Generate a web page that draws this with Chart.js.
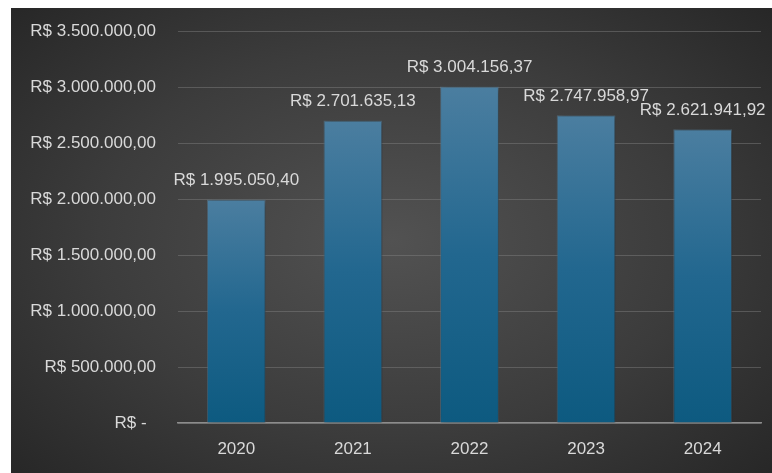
<!DOCTYPE html>
<html>
<head>
<meta charset="utf-8">
<script src="https://cdn.jsdelivr.net/npm/chart.js@4.4.1/dist/chart.umd.min.js"></script>
<style>
    html, body { margin: 0; padding: 0; background: #fff; }
    #wrap {
        position: absolute; left: 11px; top: 8px; width: 761px; height: 465px;
        background: radial-gradient(ellipse 70% 75% at 50% 50%, #525252 0%, #3c3c3c 55%, #262626 100%);
    }
</style>
</head>
<body>
<div id="wrap"><canvas id="grafico"></canvas></div>
<script>
// Dados do gráfico
const anos = ['2020', '2021', '2022', '2023', '2024'];
const valores = [1995050.40, 2701635.13, 3004156.37, 2747958.97, 2621941.92];
const eixoMax = 3500000;
const eixoPasso = 500000;

// Formato moeda brasileiro: R$ 1.234.567,89
function formatarReal(v) {
    if (v === 0) return 'R$ -  ';
    const partes = Number(v).toFixed(2).split('.');
    const inteiro = partes[0].replace(/\B(?=(\d{3})+(?!\d))/g, '.');
    return 'R$ ' + inteiro + ',' + partes[1];
}

const corTexto = '#d9d9d9';
const fonte = { family: "'Liberation Sans', Arial, sans-serif", size: 17 };

// Sombra suave nas barras
const sombraBarras = {
    id: 'sombraBarras',
    beforeDatasetsDraw(chart) {
        const ctx = chart.ctx;
        ctx.save();
        ctx.shadowColor = 'rgba(0,0,0,0.45)';
        ctx.shadowBlur = 6;
        ctx.shadowOffsetX = 2;
        ctx.shadowOffsetY = 1;
    },
    afterDatasetsDraw(chart) {
        chart.ctx.restore();
    }
};

// Rótulos de valor acima das barras
const rotulosValores = {
    id: 'rotulosValores',
    afterDatasetsDraw(chart) {
        const ctx = chart.ctx;
        const meta = chart.getDatasetMeta(0);
        ctx.save();
        ctx.font = `${fonte.size}px ${fonte.family}`;
        ctx.fillStyle = corTexto;
        ctx.textAlign = 'center';
        ctx.textBaseline = 'middle';
        meta.data.forEach((barra, i) => {
            ctx.fillText(formatarReal(valores[i]), barra.x, barra.y - 19);
        });
        ctx.restore();
    }
};

new Chart(document.getElementById('grafico'), {
    type: 'bar',
    data: {
        labels: anos,
        datasets: [{
            data: valores,
            backgroundColor: (context) => {
                const chart = context.chart;
                if (!chart.chartArea) return '#1f6a93';
                const y = chart.scales.y;
                const topo = y.getPixelForValue(context.raw);
                const base = y.getPixelForValue(0);
                const g = chart.ctx.createLinearGradient(0, topo, 0, base);
                g.addColorStop(0, '#4b7ea0');
                g.addColorStop(0.5, '#22678f');
                g.addColorStop(1, '#0d5a80');
                return g;
            },
            borderColor: 'rgba(110,150,180,0.45)',
            borderWidth: 1,
            categoryPercentage: 1,
            barPercentage: 0.505
        }]
    },
    options: {
        responsive: true,
        maintainAspectRatio: false,
        animation: false,
        layout: { padding: { top: 23, right: 11, bottom: 0, left: 0 } },
        scales: {
            x: {
                grid: { display: false },
                border: { color: '#8c8c8c', width: 1.5 },
                ticks: { color: corTexto, font: fonte, padding: 8 },
                afterFit: (scale) => { scale.height = 50; }
            },
            y: {
                min: 0, max: eixoMax,
                grid: { color: 'rgba(130,130,130,0.45)', drawTicks: false, lineWidth: 1 },
                border: { display: false },
                ticks: {
                    stepSize: eixoPasso, color: corTexto, font: fonte, padding: 22,
                    callback: (v) => formatarReal(v)
                },
                afterFit: (scale) => {
                    scale.width = 167;
                    // o padding dos rótulos não deve empurrar a área do gráfico
                    scale.paddingTop = 10;
                    scale.paddingBottom = 10;
                }
            }
        },
        plugins: {
            legend: { display: false },
            tooltip: { enabled: false }
        }
    },
    plugins: [sombraBarras, rotulosValores]
});
</script>
</body>
</html>
